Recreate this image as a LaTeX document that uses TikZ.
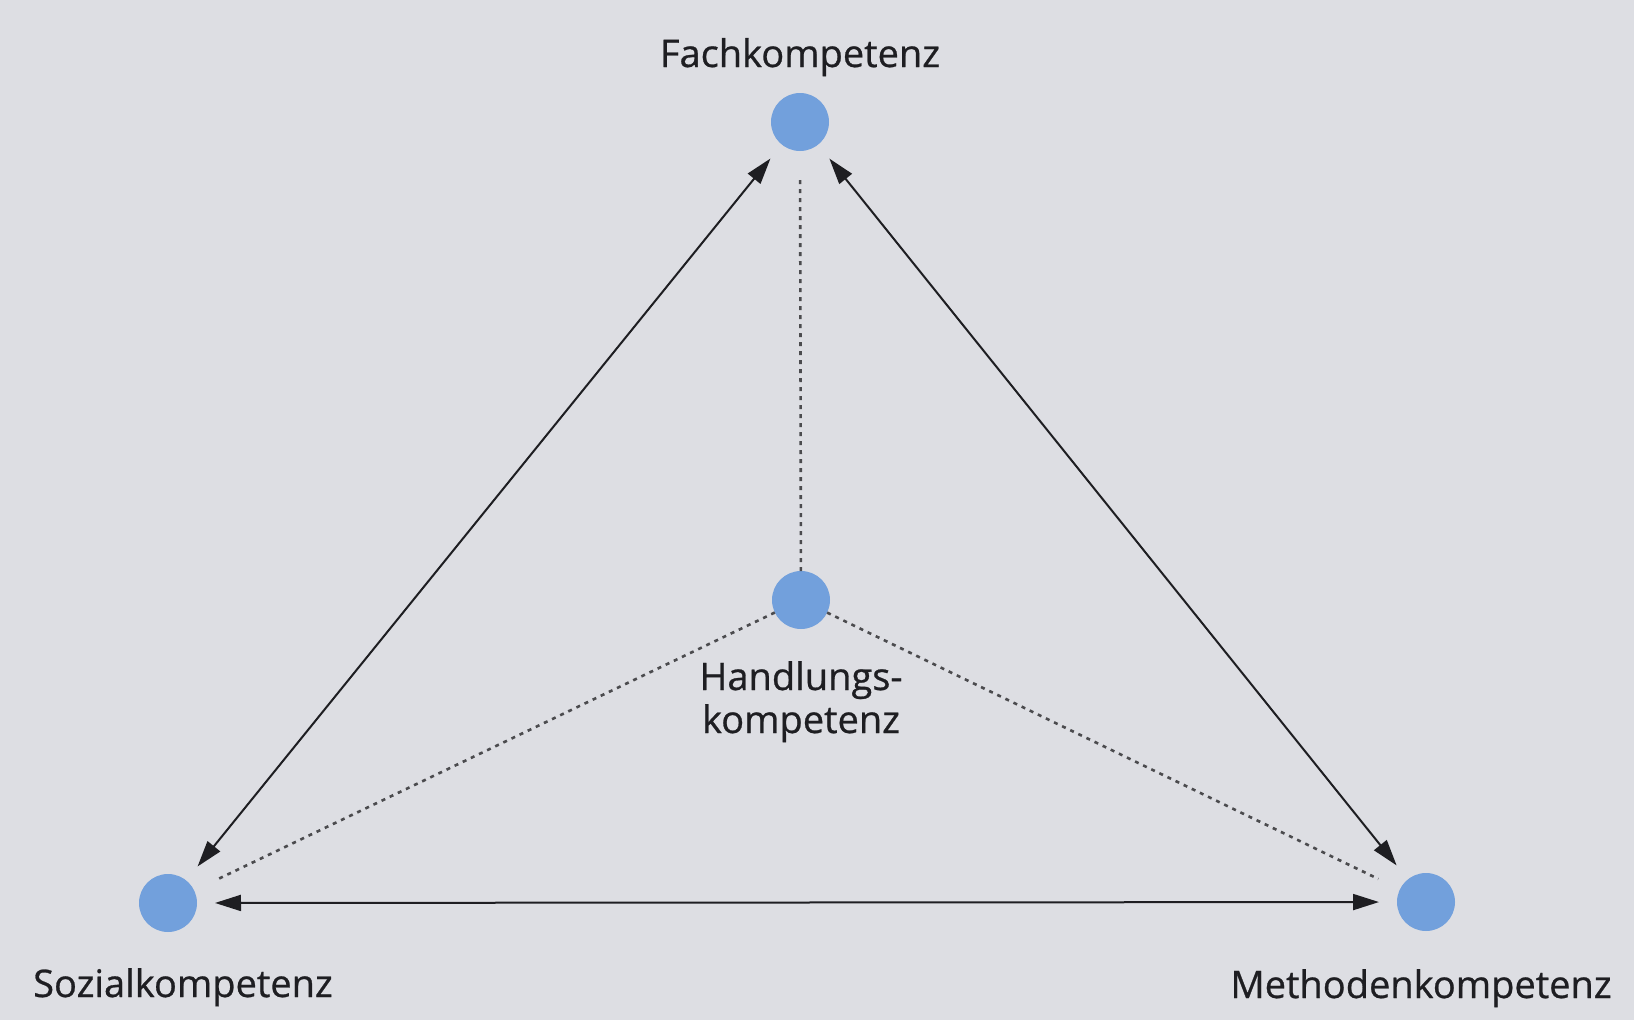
\documentclass[tikz,border=0pt]{standalone}
\usepackage{fontspec}
\setmainfont{Open Sans}
\newfontfamily\lblfont[FakeBold=0.7]{Open Sans}
\usetikzlibrary{arrows.meta}
\definecolor{bg}{HTML}{DDDEE3}
\definecolor{dot}{HTML}{72A0DC}
\definecolor{ink}{HTML}{1E1E22}
\tikzset{
  comp/.style={circle, fill=dot, minimum size=58pt, inner sep=0pt, outer sep=18pt},
  lbl/.style={font=\lblfont\fontsize{38}{43}\selectfont, text=ink, inner sep=0pt},
  rel/.style={line width=2pt, draw=ink, {Triangle[length=26pt,width=16pt]}-{Triangle[length=26pt,width=16pt]}},
  link/.style={line width=2.6pt, draw=ink!80, dash pattern=on 4pt off 5pt}
}
\begin{document}
\begin{tikzpicture}[x=1pt,y=-1pt]
\fill[bg] (0,0) rectangle (1634,1020);
\useasboundingbox (0,0) rectangle (1634,1020);
\node[comp] (fach) at (800,122) {};
\node[comp] (hand) at (801,600) {};
\node[comp] (sozial) at (168,903) {};
\node[comp] (meth) at (1426,902) {};
\node[lbl, anchor=base] (lfach) at (800,67) {Fachkompetenz};
\node[lbl, anchor=base, align=center] (lhand) at (801,733) {Handlungs-\\kompetenz};
\node[lbl, anchor=base west] (lsozial) at (33,997) {Sozialkompetenz};
\node[lbl, anchor=base] (lmeth) at (1421,998) {Methodenkompetenz};
\draw[rel] (sozial) -- (fach);
\draw[rel] (fach) -- (meth);
\draw[rel] (sozial) -- (meth);
\draw[link, shorten <=-18pt, shorten >=10pt] (hand) -- (fach);
\draw[link, shorten <=-18pt, shorten >=8pt] (hand) -- (sozial);
\draw[link, shorten <=-18pt, shorten >=6pt] (hand) -- (meth);
\end{tikzpicture}
\end{document}
